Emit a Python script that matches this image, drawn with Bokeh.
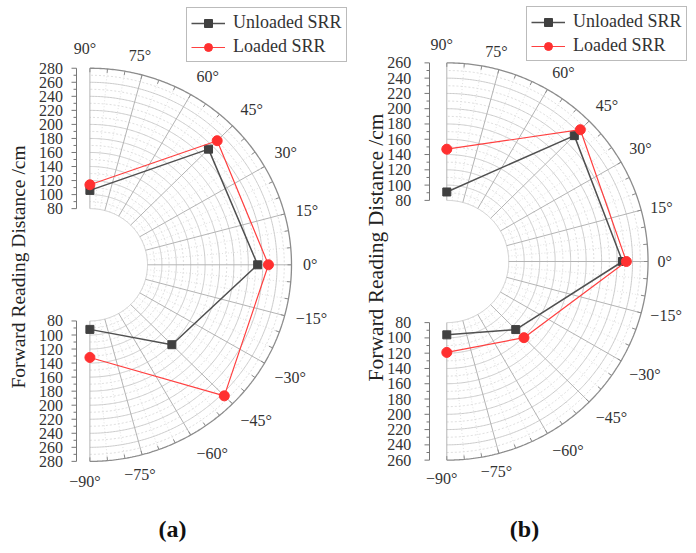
import numpy as np
from bokeh.plotting import figure
from bokeh.layouts import row
from bokeh.models import Legend, LegendItem, Range1d
from bokeh.core.properties import value
from bokeh.embed import file_html
from bokeh.resources import INLINE

# ---------------- data ----------------
angles_deg = [90, 45, 0, -45, -90]
unloaded_a = [106, 233, 233, 161, 92]
loaded_a = [114, 250, 248, 264, 132]
unloaded_b = [91, 233, 227, 126, 96]
loaded_b = [147, 244, 232, 141, 119]

r_ticks_a = [80, 100, 120, 140, 160, 180, 200, 220, 240, 260, 280]
r_ticks_b = [80, 100, 120, 140, 160, 180, 200, 220, 240, 260]
angle_ticks = [90, 75, 60, 45, 30, 15, 0, -15, -30, -45, -60, -75, -90]
angle_labels = ["90°", "75°", "60°", "45°", "30°", "15°", "0°",
                "−15°", "−30°", "−45°", "−60°", "−75°", "−90°"]
series_names = ["Unloaded SRR", "Loaded SRR"]
title_a = "Forward Reading Distance  /cm"
title_b = "Forward Reading Distance /cm"
panel_labels = ["(a)", "(b)"]

FONT = "Liberation Serif"
W, H = 348, 553


def make_panel(unloaded, loaded, r_ticks, title, plabel, st):
    cx, cy, kx, ky = st["cx"], st["cy"], st["kx"], st["ky"]
    p = figure(width=W, height=H,
               x_range=Range1d(-cx / kx, (W - cx) / kx),
               y_range=Range1d(-(H - cy) / ky, cy / ky),
               output_backend="svg", toolbar_location=None,
               x_axis_location=None, y_axis_location=None,
               min_border=0, outline_line_color=None)
    p.grid.visible = False
    rmin, rmax = r_ticks[0], r_ticks[-1]
    th = np.radians(np.linspace(-90, 90, 361))

    # minor (dashed) rings
    minor_r = [r + 10 for r in r_ticks[:-1]]
    p.multi_line([list(r * np.cos(th)) for r in minor_r],
                 [list(r * np.sin(th)) for r in minor_r],
                 line_color="#d6d6d6", line_width=0.8, line_dash="2 2")
    # minor spokes every 5 deg
    minor_a = np.radians([a for a in range(-90, 91, 5) if a % 15 != 0])
    p.segment(x0=rmin * np.cos(minor_a), y0=rmin * np.sin(minor_a),
              x1=rmax * np.cos(minor_a), y1=rmax * np.sin(minor_a),
              line_color="#dadada", line_width=0.8, line_dash="1 2")
    # major rings
    major_r = r_ticks[:-1]
    p.multi_line([list(r * np.cos(th)) for r in major_r],
                 [list(r * np.sin(th)) for r in major_r],
                 line_color="#cbcbcb", line_width=1)
    # major spokes
    major_a = np.radians(angle_ticks)
    p.segment(x0=rmin * np.cos(major_a), y0=rmin * np.sin(major_a),
              x1=rmax * np.cos(major_a), y1=rmax * np.sin(major_a),
              line_color="#b4b4b4", line_width=1)
    # outer ring
    p.line(rmax * np.cos(th), rmax * np.sin(th), line_color="#8c8c8c", line_width=1.3)
    # small inward ticks on outer ring
    tick_a = np.radians(list(range(-90, 91, 5)))
    p.segment(x0=rmax * np.cos(tick_a), y0=rmax * np.sin(tick_a),
              x1=(rmax - 4 / kx) * np.cos(tick_a), y1=(rmax - 4 / ky) * np.sin(tick_a),
              line_color="#8c8c8c", line_width=1)

    # angle labels
    gap = st["agap"]
    for a, lab in zip(angle_ticks, angle_labels):
        t = np.radians(a)
        x = np.cos(t) * (rmax + gap / kx)
        y = np.sin(t) * (rmax + gap / ky)
        align = "center" if abs(a) >= 75 else "left"
        base = "bottom" if a >= 30 else ("top" if a <= -30 else "middle")
        p.text(x=[x], y=[y], text=[lab], text_align=align, text_baseline=base,
               x_offset=-5 if align == "center" else 0,
               text_font=value(FONT), text_font_size="16px", text_color="#333333")

    # radial axis (upper and lower branches)
    ax = -st["axoff"] / kx
    for sgn in (1, -1):
        p.segment(x0=[ax], y0=[sgn * rmin], x1=[ax], y1=[sgn * rmax],
                  line_color="#777777", line_width=1)
        p.segment(x0=[ax] * len(r_ticks), y0=[sgn * r for r in r_ticks],
                  x1=[ax - 5 / kx] * len(r_ticks), y1=[sgn * r for r in r_ticks],
                  line_color="#777777", line_width=1)
        p.segment(x0=[ax] * len(minor_r), y0=[sgn * r for r in minor_r],
                  x1=[ax - 3 / kx] * len(minor_r), y1=[sgn * r for r in minor_r],
                  line_color="#777777", line_width=1)
        p.text(x=[ax] * len(r_ticks), y=[sgn * r for r in r_ticks],
               text=[str(r) for r in r_ticks], text_align="right", text_baseline="middle",
               x_offset=-st["lgap"], text_font=value(FONT), text_font_size="16px",
               text_color="#333333")

    # title (rotated; anchored at its start, reading upward)
    p.text(x=[(st["tx"] - cx) / kx], y=[(cy - st["ty0"]) / ky], text=[title],
           angle=np.pi / 2, text_align="left", text_baseline="middle",
           text_font=value(FONT), text_font_size=st["tfs"], text_color="#222222")

    # data
    t = np.radians(angles_deg)
    ux, uy = np.array(unloaded) * np.cos(t), np.array(unloaded) * np.sin(t)
    lx, ly = np.array(loaded) * np.cos(t), np.array(loaded) * np.sin(t)
    l1 = p.line(ux, uy, line_color="#505050", line_width=1.5)
    s1 = p.scatter(ux, uy, marker="square", size=8, fill_color="#404040", line_color="#404040")
    l2 = p.line(lx, ly, line_color="#ff4040", line_width=1.2)
    s2 = p.scatter(lx, ly, marker="circle", size=10, fill_color="#ff3030", line_color="#ff3030")

    leg = Legend(items=[LegendItem(label=series_names[0], renderers=[l1, s1]),
                        LegendItem(label=series_names[1], renderers=[l2, s2])],
                 location=st["legloc"])
    leg.border_line_color = "#777777"
    leg.border_line_width = 1
    leg.background_fill_alpha = 1
    leg.label_text_font = FONT
    leg.label_text_font_size = "18px"
    leg.label_text_color = "#333333"
    leg.glyph_width = 34
    leg.glyph_height = 20
    leg.label_height = 20
    leg.padding = 4
    leg.spacing = 3
    leg.label_standoff = 8
    leg.margin = 0
    p.add_layout(leg)

    # panel label
    p.text(x=[(st["px"] - cx) / kx], y=[(cy - st["py"]) / ky], text=[plabel],
           text_align="center", text_baseline="middle", text_font=value(FONT),
           text_font_size="24px", text_font_style="bold", text_color="#111111")
    return p


style_a = dict(cx=89.4, cy=264.3, kx=0.720, ky=0.702, agap=11.5, axoff=13.4, lgap=13.5,
               tx=18, ty0=388, tfs="19.5px", legloc=(186, 491), px=172, py=528)
style_b = dict(cx=98.3, cy=261.0, kx=0.774, ky=0.764, agap=9.5, axoff=17.3, lgap=18.3,
               tx=27, ty0=381, tfs="21.5px", legloc=(178, 492), px=176, py=528)

pa = make_panel(unloaded_a, loaded_a, r_ticks_a, title_a, panel_labels[0], style_a)
pb = make_panel(unloaded_b, loaded_b, r_ticks_b, title_b, panel_labels[1], style_b)

layout = row(pa, pb, spacing=0)
open("out.html", "w").write(file_html(layout, INLINE))
